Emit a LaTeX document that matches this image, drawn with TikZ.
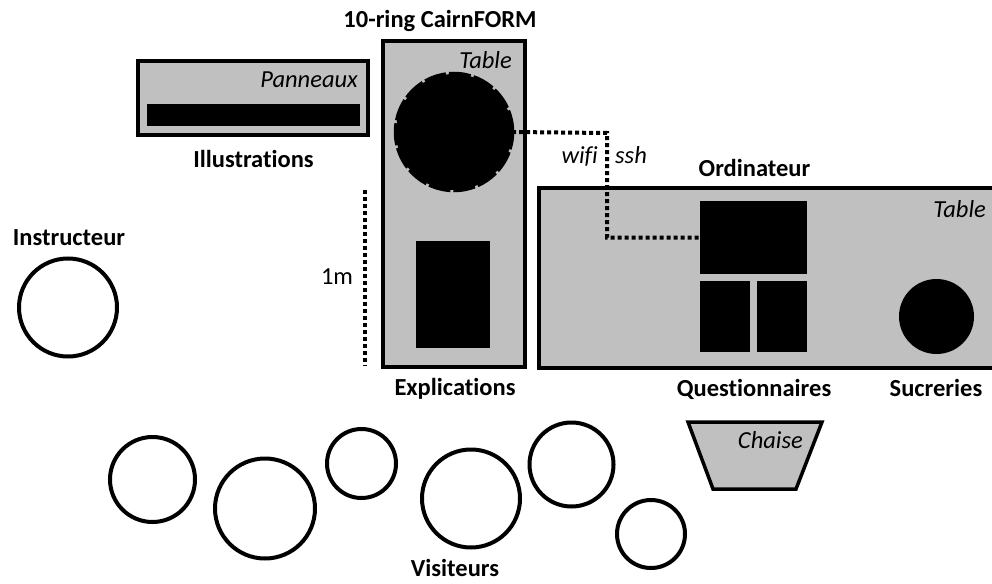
\documentclass[tikz,border=0pt]{standalone}
\usepackage{fontspec}
\setmainfont[Ligatures=NoCommon]{Carlito}
\usetikzlibrary{calc}
\definecolor{tablegray}{RGB}{192,192,192}
\tikzset{
  tablebox/.style={draw=black, fill=tablegray, line width=3.5pt},
  blackbox/.style={draw=none, fill=black, rectangle, inner sep=0pt},
  person/.style={draw=black, line width=4pt, circle, inner sep=0pt, fill=white},
  dotline/.style={line width=4pt, dash pattern=on 4pt off 3pt},
  lbl/.style={font=\fontsize{24.5}{28}\selectfont\bfseries, inner sep=0pt, anchor=base},
  ilbl/.style={font=\fontsize{24.5}{28}\selectfont\itshape, inner sep=0pt, anchor=base east},
  rlbl/.style={font=\fontsize{24.5}{28}\selectfont, inner sep=0pt, anchor=base},
}
\begin{document}
\begin{tikzpicture}[x=1pt,y=-1pt]
\useasboundingbox (0,0) rectangle (992,583);
\clip (0,0) rectangle (992,583);

% Panneaux
\draw[tablebox] (138,61) rectangle (368,135);
\node[blackbox, minimum width=213pt, minimum height=22pt] (panneau) at (253.5,115) {};
\node[ilbl] (panneauxlbl) at (358,88) {Panneaux};
\node[lbl] (illus) at (253.5,167) {Illustrations};

% CairnFORM table
\draw[tablebox] (383,41) rectangle (525,367);
\node[lbl] (titlecairn) at (440,28) {10-ring CairnFORM};
\node[ilbl] (tablecairn) at (512,69) {Table};
\node[circle, fill=black, inner sep=0pt, minimum size=116pt] (cairn) at (454,132) {};
\draw[black, line width=3.5pt, dash pattern=on 22pt off 3pt] (cairn.center) circle[radius=58.5pt];
\node[blackbox, minimum width=74pt, minimum height=107pt] (explbox) at (453,294.5) {};
\node[lbl] (expl) at (455,395) {Explications};

% 1m scale
\coordinate (scaletop) at (365,190);
\coordinate (scalebot) at (365,366);
\draw[dotline] (scaletop) -- (scalebot);
\node[rlbl] (onem) at (337,284) {1m};

% Big table
\draw[tablebox] (539,188) rectangle (1000,368);
\node[ilbl] (tablebig) at (986,217) {Table};
\node[lbl] (ordi) at (754.5,176) {Ordinateur};
\node[blackbox, minimum width=107pt, minimum height=73pt] (monitor) at (753.5,237.5) {};
\node[blackbox, minimum width=50pt, minimum height=71pt] (q1) at (725,316.5) {};
\node[blackbox, minimum width=50pt, minimum height=71pt] (q2) at (782,316.5) {};
\node[circle, fill=black, inner sep=0pt, minimum size=75pt] (sucre) at (936.5,316.5) {};
\node[lbl] (quest) at (754,396) {Questionnaires};
\node[lbl] (sucrelbl) at (936,396) {Sucreries};

% wifi / ssh connector
\coordinate (bend) at (607,133);
\draw[dotline] (cairn.east) -- (bend) |- (monitor.west);
\node[ilbl, anchor=base east] (wifi) at (598,163) {wifi};
\node[ilbl, anchor=base west] (ssh) at (615,163) {ssh};

% Chair
\coordinate (c1) at (688,422);
\coordinate (c2) at (822,422);
\coordinate (c3) at (796,489);
\coordinate (c4) at (713,489);
\draw[tablebox, line join=miter] (c1) -- (c2) -- (c3) -- (c4) -- cycle;
\node[ilbl] (chaise) at (803,448) {Chaise};

% Instructor
\node[lbl] (instrlbl) at (69,245) {Instructeur};
\node[person, minimum size=98pt] (instr) at (68,307.5) {};

% Visitors
\node[person, minimum size=85pt] (v1) at (152.5,479.5) {};
\node[person, minimum size=100pt] (v2) at (265,508.5) {};
\node[person, minimum size=69pt] (v3) at (361.5,463.5) {};
\node[person, minimum size=98pt] (v4) at (471,498.5) {};
\node[person, minimum size=84pt] (v5) at (571.5,464.5) {};
\node[person, minimum size=68pt] (v6) at (651,534) {};
\node[lbl] (visit) at (455,576) {Visiteurs};
\end{tikzpicture}
\end{document}
